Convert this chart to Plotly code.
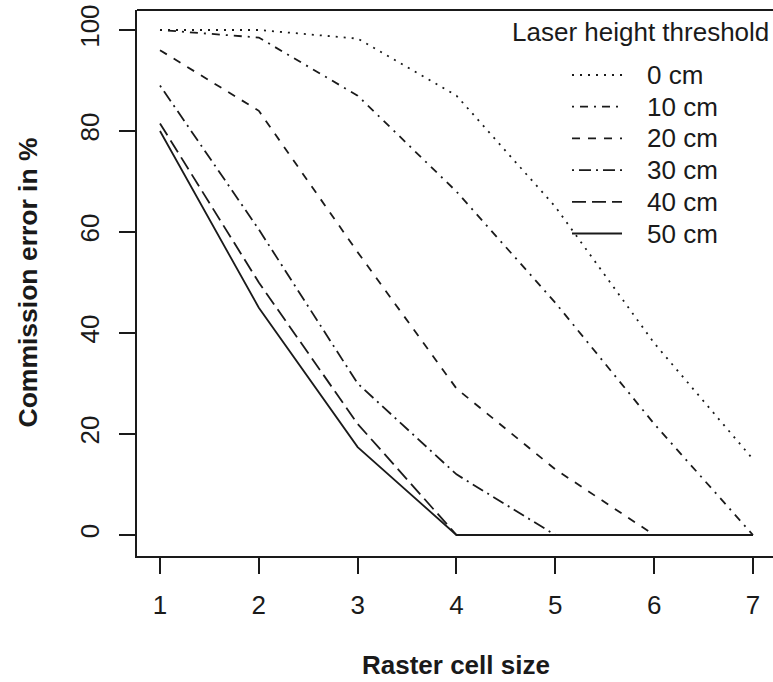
import plotly.graph_objects as go

cell_size = [1, 2, 3, 4, 5, 6, 7]
thresholds = ["0 cm", "10 cm", "20 cm", "30 cm", "40 cm", "50 cm"]
err_0cm = [100, 100, 98.3, 87, 65, 38, 15]
err_10cm = [100, 98.5, 87, 68, 46, 22, 0]
err_20cm = [96, 84, 56, 29, 13, 0, 0]
err_30cm = [89, 60.5, 30, 12, 0, 0, 0]
err_40cm = [81.5, 50, 22, 0, 0, 0, 0]
err_50cm = [80, 45, 17.4, 0, 0, 0, 0]
x_ticks = [1, 2, 3, 4, 5, 6, 7]
y_ticks = [0, 20, 40, 60, 80, 100]

series = [err_0cm, err_10cm, err_20cm, err_30cm, err_40cm, err_50cm]
dashes = ["2px,6px", "2px,6px,8px,6px", "8px,8px", "2px,5px,12px,5px", "14px,6px", "solid"]

FONT = "Liberation Sans, Arial, sans-serif"
INK = "#1a1a1a"
W, H = 773, 682
ML, MT, MB = 137, 10, 126
plot_w = W - ML
plot_h = H - MT - MB


def px_x(p):
    return (p - ML) / plot_w


def px_y(p):
    return (H - MB - p) / plot_h


fig = go.Figure()
for name, vals, d in zip(thresholds, series, dashes):
    fig.add_trace(go.Scatter(
        x=cell_size, y=vals, mode="lines", name=name,
        line=dict(color=INK, width=1.8, dash=d),
    ))

fig.update_layout(
    width=W, height=H,
    margin=dict(l=ML, r=0, t=MT, b=MB),
    plot_bgcolor="white", paper_bgcolor="white",
    font=dict(family=FONT, size=26, color=INK),
    showlegend=False,
    xaxis=dict(
        range=[0.7673, 7.2025], tickvals=x_ticks, ticks="outside", ticklen=16,
        tickwidth=1.5, tickcolor=INK, showline=True, linecolor=INK, linewidth=1.8,
        showgrid=False, zeroline=False, ticklabelstandoff=9,
        tickfont=dict(size=26),
    ),
    yaxis=dict(
        range=[-4.16, 103.96], tickvals=y_ticks, ticks="outside", ticklen=16,
        tickwidth=1.5, tickcolor=INK, showline=True, linecolor=INK, linewidth=1.8,
        showgrid=False, zeroline=False, tickangle=-90, ticklabelstandoff=10,
        tickfont=dict(size=26),
    ),
)

# top border of the box (right edge lies outside the canvas)
fig.add_shape(type="line", xref="paper", yref="paper", x0=0, x1=1, y0=1, y1=1,
              line=dict(color=INK, width=1.8))

# axis titles
fig.add_annotation(text="<b>Raster cell size</b>", x=4, xref="x",
                   y=px_y(665), yref="paper", yanchor="middle",
                   showarrow=False, font=dict(size=26, family=FONT, color=INK))
fig.add_annotation(text="<b>Commission error in %</b>", x=px_x(27), xref="paper",
                   xanchor="center", y=50, yref="y",
                   showarrow=False, textangle=-90, font=dict(size=26.5, family=FONT, color=INK))

# legend (R-style, no border)
fig.add_annotation(text="Laser height threshold", x=px_x(771), xref="paper", xanchor="right",
                   y=px_y(32), yref="paper", yanchor="middle", showarrow=False,
                   font=dict(size=26, family=FONT, color=INK))
for i, (name, d) in enumerate(zip(thresholds, dashes)):
    yy = px_y(75 + 31.7 * i)
    fig.add_shape(type="line", xref="paper", yref="paper",
                  x0=px_x(572), x1=px_x(622), y0=yy, y1=yy,
                  line=dict(color=INK, width=1.8, dash=d))
    fig.add_annotation(text=name, x=px_x(645), xref="paper", xanchor="left",
                       y=yy, yref="paper", yanchor="middle", showarrow=False,
                       font=dict(size=26, family=FONT, color=INK))

fig.write_html("out.html", config={"displayModeBar": False},
               post_script="document.body.style.margin='0';")
